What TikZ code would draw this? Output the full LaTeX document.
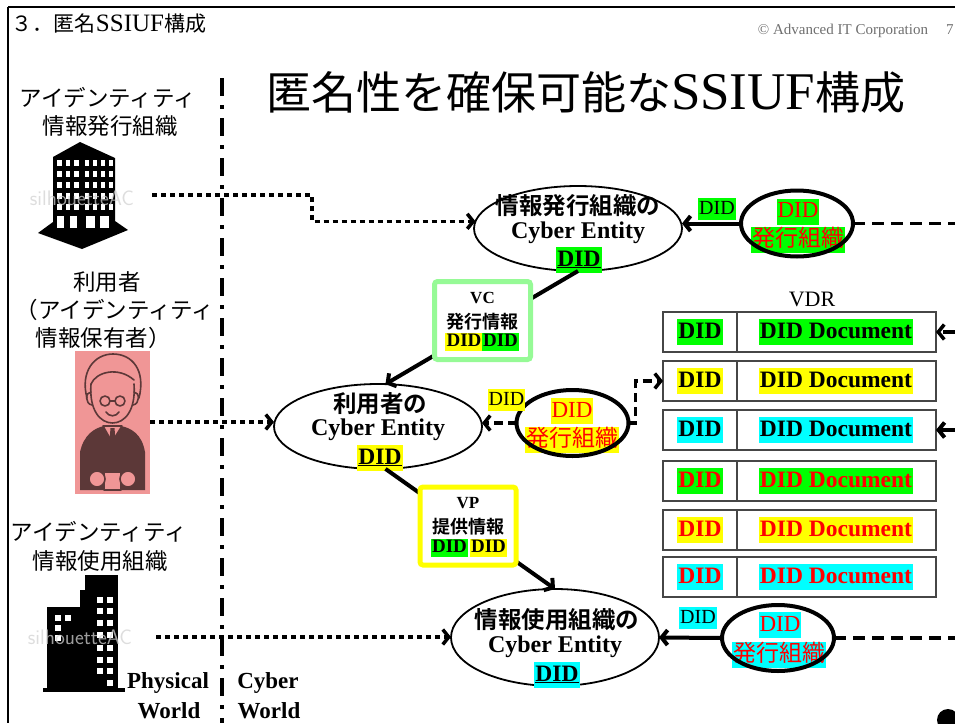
\documentclass[tikz,border=0pt]{standalone}
\usepackage{fontspec}
\setmainfont{Liberation Serif}
\newfontfamily\jp{Noto Sans CJK JP}[BoldFont={Noto Sans CJK JP Bold}]
\usetikzlibrary{arrows.meta,shapes.geometric,calc}

\definecolor{hlg}{RGB}{0,255,0}
\definecolor{hly}{RGB}{255,255,0}
\definecolor{hlc}{RGB}{0,255,255}
\definecolor{vcframe}{RGB}{150,250,150}
\definecolor{vpframe}{RGB}{255,255,0}
\definecolor{skin}{RGB}{240,150,150}
\definecolor{ink}{RGB}{92,56,56}
\definecolor{cellline}{RGB}{70,70,70}
\definecolor{notegray}{RGB}{110,110,110}

\newcommand\sz[1]{\fontsize{#1}{#1}\selectfont}

\tikzset{
  every node/.style={inner sep=0pt, outer sep=0pt},
  entity/.style={ellipse, draw, line width=1.8pt, minimum width=208pt, minimum height=85pt},
  issuer/.style={ellipse, draw, line width=4pt, minimum width=112pt, minimum height=66pt},
  hl/.style={fill=#1, inner xsep=1pt, inner ysep=2pt, text height=17pt, text depth=5pt},
  hlsmall/.style={fill=#1, inner xsep=1pt, inner ysep=1pt, text height=15pt, text depth=5pt},
  hltiny/.style={fill=#1, inner xsep=1.5pt, inner ysep=0.5pt, text height=13pt, text depth=4pt},
  barb/.style={-{Straight Barb[length=6pt,width=15pt]}},
  solidlink/.style={line width=4pt, barb},
  dashlink/.style={line width=3.5pt, dash pattern=on 12pt off 7pt},
  shortdash/.style={line width=3.5pt, dash pattern=on 9pt off 5pt},
  dotlink/.style={line width=3.5pt, dash pattern=on 5pt off 4pt, barb},
  cell/.style={draw=cellline, line width=1.8pt, minimum height=40pt},
  infobox/.style={draw=#1, line width=5pt, rounded corners=3pt, fill=white, minimum width=96pt, minimum height=78pt},
  ellipsetext/.style={font=\jp\bfseries\sz{23.5}},
  serifbold/.style={font=\bfseries\sz{24}},
  wmark/.style={text=gray!35, text opacity=0.75, font=\sffamily\sz{21}},
}

\begin{document}
\begin{tikzpicture}[x=1pt,y=-1pt]
\useasboundingbox (0,0) rectangle (955,723);

% slide frame and header
\draw[line width=2.6pt] (8,7) -- (955,7);
\draw[line width=2.6pt] (8,7) -- (8,723);
\node[anchor=base west] (heading) at (12,31) {\jp\sz{21}３．匿名\rmfamily\sz{25}SSIUF\jp\sz{21}構成};
\node[anchor=base east, text=notegray, font=\sz{15}] (copy) at (928,34) {© Advanced IT Corporation};
\node[anchor=base west, text=notegray, font=\sz{15}] (page) at (946,34) {7};
\node[anchor=base west] (title) at (266,109) {\jp\sz{45}匿名性を確保可能な\rmfamily\sz{53}SSIUF\jp\sz{45}構成};

% boundary between the physical and the cyber world
\coordinate (wallTop) at (222,78);
\coordinate (wallBot) at (222,723);
\draw[line width=4pt, dash pattern=on 18pt off 9pt on 4pt off 9pt] (wallTop) -- (wallBot);

% actors in the physical world
\begin{scope}[font=\jp\sz{22.5}]
  \node (issA) at (108,98) {アイデンティティ};
  \node (issB) at (110,126) {情報発行組織};
  \node (usrA) at (107,282) {利用者};
  \node (usrB) at (115,310) {（アイデンティティ};
  \node (usrC) at (103,338) {情報保有者）};
  \node (verA) at (99,532) {アイデンティティ};
  \node (verB) at (100,561) {情報使用組織};
\end{scope}

% issuing organisation: office tower
\fill (53,157) -- (80,142) -- (115,158) -- (115,221) -- (128,230) -- (82,249) -- (38,233) -- (53,222) -- cycle;
\foreach \yy in {160,171,182,193,204}{
  \foreach \xx in {57,65.5,74} \fill[white] (\xx,\yy) rectangle ++(4.5,6);
  \foreach \xx in {85,93,101,108.5} \fill[white] (\xx,\yy) rectangle ++(4,6);
}
\fill[white] (57,216) rectangle ++(7,12);
\fill[white] (70,216) rectangle ++(7,12);
\fill[white] (86,216) rectangle ++(9,12);
\fill[white] (100,216) rectangle ++(9,12);
\node[wmark] (wmA) at (82,198) {silhouetteAC};

% user: cartoon portrait
\node[fill=skin, minimum width=75pt, minimum height=143pt] (user) at (112.5,422) {};
\begin{scope}[draw=ink, line width=1.6pt, line cap=round, line join=round]
  \fill[ink] (80,490) -- (80,452) .. controls (84,434) and (95,428) .. (104,426) -- (121,426) .. controls (131,428) and (142,434) .. (145,452) -- (145,490) -- cycle;
  \filldraw[fill=skin] (103,426) -- (112,442) -- (122,426) -- cycle;
  \fill[ink] (110.5,428) -- (114.5,428) -- (115.5,441) -- (112.5,446) -- (109.5,441) -- cycle;
  \draw (91,384) .. controls (89,410) and (100,423) .. (112.5,423) .. controls (125,423) and (136,410) .. (134,384);
  \draw (87,398) .. controls (80,372) and (94,354) .. (113,354) .. controls (132,354) and (146,370) .. (139,398);
  \draw (91,384) .. controls (96,372) and (118,366) .. (134,380);
  \draw (91,392) .. controls (85,392) and (85,404) .. (92,405);
  \draw (134,392) .. controls (140,392) and (140,404) .. (133,405);
  \draw (105,401) circle (5);
  \draw (120,401) circle (5);
  \draw (110,401) -- (115,401);
  \draw (106,412) .. controls (109,417) and (116,417) .. (119,412);
  \draw (82,466) -- (143,466);
  \filldraw[fill=skin] (104,472) rectangle (121,490);
  \filldraw[fill=skin] (97,479) ellipse (8 and 8);
  \filldraw[fill=skin] (128,479) ellipse (8 and 8);
\end{scope}

% verifying organisation: stepped building
\fill (85,575) rectangle (118,692);
\fill (80,590) rectangle (85,692);
\fill (47,607) rectangle (80,692);
\fill (43,688) rectangle (125,692);
\foreach \xx/\yy in {55/615,65/615,55/625,55/635}
  \fill[white] (\xx,\yy) rectangle ++(6,6);
\foreach \yy in {597,608,620,632,645,657,668}{
  \fill[white] (97,\yy) rectangle ++(6,6);
  \fill[white] (107,\yy) rectangle ++(6,6);
}
\fill[white] (107,680) rectangle ++(6,6);
\node[wmark] (wmC) at (80,637) {silhouetteAC};

\node[serifbold, font=\bfseries\sz{23}] (physA) at (168,683) {Physical};
\node[serifbold, font=\bfseries\sz{23}] (physB) at (169,711) {World};
\node[serifbold, font=\bfseries\sz{23}] (cybA) at (268,683) {Cyber};
\node[serifbold, font=\bfseries\sz{23}] (cybB) at (269,711) {World};

% cyber entities
\node[entity] (e1) at (578,228.5) {};
\node[entity] (e2) at (378,426.5) {};
\node[entity, minimum height=97pt] (e3) at (555,637.5) {};

\node[ellipsetext] (e1a) at (578,206) {情報発行組織の};
\node[serifbold] (e1b) at (578,233) {Cyber Entity};
\node[hl=hlg, font=\bfseries\sz{23.5}] (e1c) at (579,260) {\underline{DID}};

\node[ellipsetext] (e2a) at (380,404) {利用者の};
\node[serifbold] (e2b) at (378,430) {Cyber Entity};
\node[hl=hly, font=\bfseries\sz{23.5}] (e2c) at (380,458) {\underline{DID}};

\node[ellipsetext] (e3a) at (557,620) {情報使用組織の};
\node[serifbold] (e3b) at (555,647) {Cyber Entity};
\node[hl=hlc, font=\bfseries\sz{23.5}] (e3c) at (557,675) {\underline{DID}};

% credential flow between the entities
\draw[solidlink] (e1.south) -- (e2.80);
\draw[solidlink] (e2.-80) -- (e3.north);

\node[infobox=vcframe] (vc) at (482.5,320.5) {};
\node[font=\bfseries\sz{17}] (vcT) at (482.5,298) {VC};
\node[font=\jp\bfseries\sz{18}] (vcS) at (482.5,322) {発行情報};
\node[hltiny=hly, font=\bfseries\sz{19}] (vcD1) at (464,342) {DID};
\node[hltiny=hlg, font=\bfseries\sz{19}] (vcD2) at (500.5,342) {DID};

\node[infobox=vpframe] (vp) at (468,526) {};
\node[font=\bfseries\sz{17}] (vpT) at (468,503) {VP};
\node[font=\jp\bfseries\sz{18}] (vpS) at (468,527) {提供情報};
\node[hltiny=hlg, font=\bfseries\sz{19}] (vpD1) at (449.5,548) {DID};
\node[hltiny=hly, font=\bfseries\sz{19}] (vpD2) at (488.5,548) {DID};

% DID issuing bodies
\node[hl=hlg, text=red, font=\sz{23}] (i1a) at (798,211.5) {DID};
\node[hl=hlg, text=red, font=\jp\sz{23}] (i1b) at (798,240) {発行組織};
\node[issuer] (i1) at (797,223.5) {};

\node[hl=hly, text=red, font=\sz{23}] (i2a) at (572,411) {DID};
\node[hl=hly, text=red, font=\jp\sz{23}] (i2b) at (572,440) {発行組織};
\node[issuer] (i2) at (572.5,423) {};

\node[hl=hlc, text=red, font=\sz{23}] (i3a) at (780,625) {DID};
\node[hl=hlc, text=red, font=\jp\sz{23}] (i3b) at (779,655) {発行組織};
\node[issuer] (i3) at (778,638) {};

\node[hlsmall=hlg, font=\sz{20}] (l1) at (717,209) {DID};
\node[hlsmall=hly, font=\sz{20}] (l2) at (506.5,400) {DID};
\node[hlsmall=hlc, font=\sz{20}] (l3) at (698,618) {DID};

% verifiable data registry
\node[font=\sz{22}] (vdr) at (812,299) {VDR};
\foreach \yy/\bg/\tc [count=\i] in {332/hlg/black,381/hly/black,430/hlc/black,481/hlg/red,530/hly/red,577/hlc/red}{
  \node[cell, minimum width=74pt] (ra\i) at (700,\yy) {};
  \node[cell, minimum width=199pt] (rb\i) at (836.5,\yy) {};
  \node[hl=\bg, text=\tc, font=\bfseries\sz{23.5}] (rd\i) at (700,\yy) {DID};
  \node[hl=\bg, text=\tc, font=\bfseries\sz{23.5}] (rt\i) at (836,\yy) {DID Document};
}

% links from the issuing bodies
\coordinate (outA) at (955,223.5);
\coordinate (outC) at (955,638);
\draw[solidlink] (i1.west) -- (i1.west -| e1.east);
\draw[dashlink] (i1.east) -- (outA);
\draw[shortdash, barb] (i2.west) -- (i2.west -| e2.east);
\draw[shortdash, barb] (i2.east) -- ++(7,0) |- (ra2.west);
\draw[solidlink] (i3.west) -- (e3.east);
\draw[dashlink] (i3.east) -- (outC);

\coordinate (inR1) at (955,332);
\coordinate (inR3) at (955,430);
\draw[dashlink, barb] (inR1) -- (rb1.east);
\draw[solidlink] (inR3) -- (rb3.east);

% physical actors to their cyber entities
\coordinate (srcA) at (152,195);
\coordinate (bendA) at (312,195);
\coordinate (srcC) at (156,637);
\draw[dotlink] (srcA) -- (bendA) |- (e1.176);
\draw[dotlink] (user.east) -- (user.east -| e2.west);
\draw[dotlink] (srcC) -- (srcC -| e3.west);

\fill (948,720) circle (11);
\end{tikzpicture}
\end{document}
